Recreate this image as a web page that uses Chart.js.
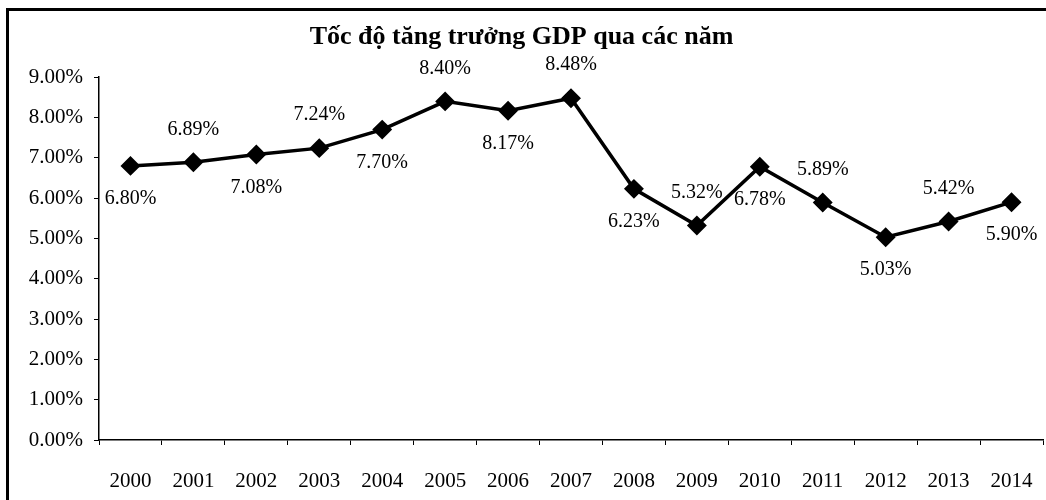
<!DOCTYPE html>
<html>
<head>
<meta charset="utf-8">
<script src="https://cdn.jsdelivr.net/npm/chart.js@4"></script>
<style>
    html, body { margin: 0; padding: 0; background: #fff; }
    #wrap { position: relative; width: 1046px; height: 500px; overflow: hidden; }
    #frame {
        position: absolute; left: 6px; top: 8px; width: 1100px; height: 600px;
        border-left: 3px solid #000; border-top: 3px solid #000;
    }
    #gdpChart { position: absolute; left: 0; top: 0; }
</style>
</head>
<body>
<div id="wrap">
    <div id="frame"></div>
    <canvas id="gdpChart" width="1046" height="500"></canvas>
</div>
<script>
// GDP growth by year (%)
const years = ['2000', '2001', '2002', '2003', '2004', '2005', '2006', '2007',
               '2008', '2009', '2010', '2011', '2012', '2013', '2014'];
const growth = [6.80, 6.89, 7.08, 7.24, 7.70, 8.40, 8.17, 8.48,
                6.23, 5.32, 6.78, 5.89, 5.03, 5.42, 5.90];
const yTicks = [0, 1, 2, 3, 4, 5, 6, 7, 8, 9];

const serif = '"Liberation Serif", "Times New Roman", serif';

// value labels, alternating below / above the points
const pointLabels = {
    id: 'pointLabels',
    afterDatasetsDraw(chart) {
        const ctx = chart.ctx;
        const meta = chart.getDatasetMeta(0);
        ctx.save();
        ctx.font = '20px ' + serif;
        ctx.fillStyle = '#000';
        ctx.textAlign = 'center';
        ctx.textBaseline = 'middle';
        meta.data.forEach((pt, i) => {
            const dy = i % 2 === 0 ? 33 : -33;
            ctx.fillText(growth[i].toFixed(2) + '%', pt.x, pt.y + dy);
        });
        ctx.restore();
    }
};

const ctxGdp = document.getElementById('gdpChart').getContext('2d');
const gdpChart = new Chart(ctxGdp, {
    type: 'line',
    data: {
        labels: years,
        datasets: [{
            label: 'GDP',
            data: growth,
            borderColor: '#000',
            backgroundColor: '#000',
            borderWidth: 3.5,
            pointStyle: 'rectRot',
            pointRadius: 7.5,
            pointHoverRadius: 7.5,
            tension: 0
        }]
    },
    options: {
        responsive: false,
        animation: false,
        layout: { autoPadding: false, padding: { left: 0, right: 3, top: 0, bottom: 0 } },
        scales: {
            x: {
                offset: true,
                afterFit(scale) {
                    scale.height = 60;
                    scale.paddingLeft = 0;
                    scale.paddingRight = 0;
                },
                grid: {
                    offset: true,
                    drawOnChartArea: false,
                    tickLength: 5,
                    color: '#000'
                },
                border: { color: '#000', width: 1.5 },
                ticks: {
                    color: '#000',
                    padding: 24,
                    font: { family: serif, size: 21 }
                }
            },
            y: {
                min: 0,
                max: 9,
                afterFit(scale) { scale.width = 99; },
                afterBuildTicks(scale) { scale.ticks = yTicks.map(v => ({ value: v })); },
                grid: {
                    drawOnChartArea: false,
                    tickLength: 5,
                    color: '#000'
                },
                border: { color: '#000', width: 1.5 },
                ticks: {
                    color: '#000',
                    padding: 11,
                    font: { family: serif, size: 21 },
                    callback: v => v.toFixed(2) + '%'
                }
            }
        },
        plugins: {
            legend: { display: false },
            tooltip: { enabled: false },
            title: {
                display: true,
                text: 'Tốc độ tăng trưởng GDP qua các năm',
                color: '#000',
                font: { family: serif, size: 26, weight: 'bold' },
                padding: { top: 22, bottom: 24 }
            }
        }
    },
    plugins: [pointLabels]
});
</script>
</body>
</html>
